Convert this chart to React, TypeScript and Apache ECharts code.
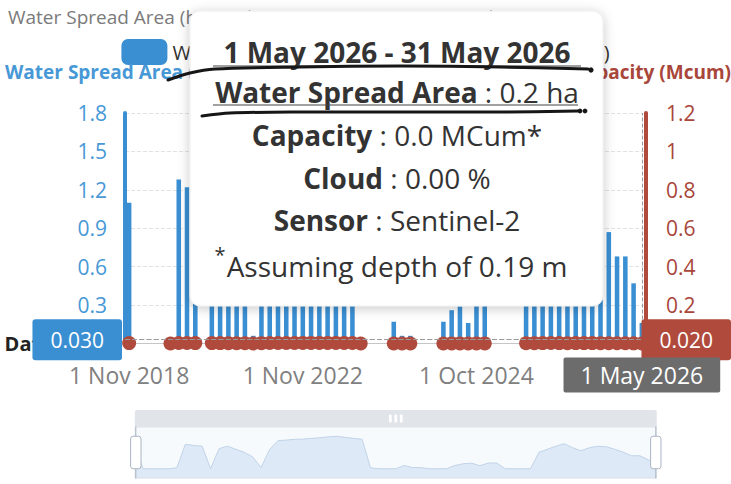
import React, { useEffect, useRef } from 'react';
import * as echarts from 'echarts';

// ---------- data ----------
const dates: string[] = [
  '1 Nov 2018', '1 Dec 2018', '1 Jan 2019', '1 Feb 2019', '1 Mar 2019', '1 Apr 2019',
  '1 Nov 2019', '1 Dec 2019', '1 Jan 2020', '1 Feb 2020', '1 Mar 2020',
  '1 Nov 2020', '1 Dec 2020', '1 Jan 2021', '1 Feb 2021', '1 Mar 2021',
  '1 Oct 2021', '1 Nov 2021', '1 Dec 2021', '1 Jan 2022', '1 Feb 2022',
  '1 Nov 2022', '1 Dec 2022', '1 Jan 2023', '1 Feb 2023', '1 Mar 2023', '1 Apr 2023',
  '1 May 2023', '1 Jun 2023', '1 Sep 2023', '1 Oct 2023', '1 Nov 2023', '1 Dec 2023',
  '1 Jan 2024', '1 Feb 2024', '1 Mar 2024', '1 Apr 2024', '1 May 2024', '1 Jun 2024',
  '1 Jul 2024', '1 Aug 2024', '1 Sep 2024', '1 Oct 2024', '1 Nov 2024', '1 Dec 2024',
  '1 Jan 2025', '1 Feb 2025', '1 Mar 2025', '1 Apr 2025', '1 May 2025', '1 Jun 2025',
  '1 Jul 2025', '1 Aug 2025', '1 Sep 2025', '1 Oct 2025', '1 Nov 2025', '1 Dec 2025',
  '1 Jan 2026', '1 Feb 2026', '1 Mar 2026', '1 Apr 2026', '16 Apr 2026', '1 May 2026',
];

// Water spread area (ha)
const waterSpreadArea: number[] = [
  1.1, 0, 0, 0, 0, 0.05, 1.28, 1.22, 1.18, 0,
  1.05, 1.18, 1.02, 0.86, 0.62, 0.06, 1.0, 1.47, 1.5, 1.54,
  1.55, 1.59, 1.62, 1.67, 1.7, 1.64, 1.59, 1.54, 0.05, 0,
  0, 0, 0.17, 0.06, 0.06, 0, 0, 0, 0.17, 0.26,
  0.29, 0.16, 0.3, 0.3, 0, 0, 0, 0, 0.86, 1.02,
  1.18, 1.31, 1.1, 0.94, 1.1, 1.18, 1.15, 1.02, 0.87, 0.68,
  0.68, 0.47, 0.16,
];

// Capacity (Mcum)
const capacity: (number | null)[] = [
  0.0021, null, null, null, null, 0.0001, 0.0024, 0.0023, 0.0022, null,
  0.002, 0.0022, 0.0019, 0.0016, 0.0012, 0.0001, 0.0019, 0.0028, 0.0029, 0.0029,
  0.0029, 0.003, 0.0031, 0.0032, 0.0032, 0.0031, 0.003, 0.0029, 0.0001, null,
  null, null, 0.0003, 0.0001, 0.0001, null, null, null, 0.0003, 0.0005,
  0.0006, 0.0003, 0.0006, 0.0006, null, null, null, null, 0.0016, 0.0019,
  0.0022, 0.0025, 0.0021, 0.0018, 0.0021, 0.0022, 0.0022, 0.0019, 0.0017, 0.0013,
  0.0013, 0.0009, 0.0003,
];

const leftAxisMax = 1.8;
const leftAxisInterval = 0.3;
const rightAxisMax = 1.2;
const rightAxisInterval = 0.2;

const pointerAreaValue = 0.03;
const pointerCapacityValue = 0.02;
const pointerDateIndex = 62;

const TITLE = 'Water Spread Area (ha) and Capacity (Mcum) Temporal Variation';
const AREA_NAME = 'Water Spread Area (ha)';
const CAP_NAME = 'Capacity (Mcum)';

const tipPeriod = '1 May 2026 - 31 May 2026';
const tipArea = '0.2 ha';
const tipCapacity = '0.0 MCum*';
const tipCloud = '0.00 %';
const tipSensor = 'Sentinel-2';
const tipNote = 'Assuming depth of 0.19 m';

// ---------- styles ----------
const FONT = "'Open Sans', 'Noto Sans', sans-serif";
const BLUE = '#3a8fd3';
const BLUE_TEXT = '#4798d6';
const RED = '#b04a3d';
const RED_TEXT = '#a9463a';
const TIP_TEXT = '#333333';
const INK = '#161616';
const TIP_SIZE = 28;

export default function App() {
  const ref = useRef<HTMLDivElement>(null);

  useEffect(() => {
    if (!ref.current) return;
    const chart = echarts.init(ref.current, undefined, { renderer: 'svg' });

    const tipText = (text: string, y: number, rich?: any, weight = 'normal') => ({
      type: 'text',
      x: 397,
      y,
      z: 101,
      style: {
        text,
        fontSize: TIP_SIZE,
        fontWeight: weight,
        fontFamily: FONT,
        fill: TIP_TEXT,
        textAlign: 'center',
        align: 'center',
        textVerticalAlign: 'middle',
        verticalAlign: 'middle',
        rich,
      },
    });

    const richBold = {
      b: { fontSize: TIP_SIZE, fontWeight: 'bold', fontFamily: FONT, fill: TIP_TEXT },
      n: { fontSize: TIP_SIZE, fontWeight: 'normal', fontFamily: FONT, fill: TIP_TEXT },
    };

    const pointerLabel = (bg: string) => ({
      show: true,
      formatter: (p: any) => Number(p.value).toFixed(3),
      backgroundColor: bg,
      color: '#fff',
      fontSize: 21,
      fontFamily: FONT,
      padding: [10, 18],
      borderRadius: 3,
    });

    const option: any = {
      animation: false,
      textStyle: { fontFamily: FONT },
      title: {
        text: TITLE,
        left: 3,
        top: 2,
        textStyle: { fontSize: 19, fontWeight: 'normal', color: '#7a7a7a', fontFamily: FONT },
      },
      legend: {
        top: 34,
        left: 'center',
        itemWidth: 46,
        itemHeight: 26,
        itemGap: 16,
        textStyle: { fontSize: 20, color: '#333', fontFamily: FONT },
        data: [
          { name: AREA_NAME, icon: 'roundRect' },
          { name: CAP_NAME, icon: 'roundRect' },
        ],
      },
      grid: { left: 125, right: 85, top: 113, bottom: 140.5 },
      xAxis: {
        type: 'category',
        data: dates,
        boundaryGap: true,
        name: 'Date',
        nameLocation: 'start',
        nameGap: 73,
        nameTextStyle: { fontSize: 20, fontWeight: 'bold', color: '#222', fontFamily: FONT },
        axisLine: { lineStyle: { color: '#c6c6c6', width: 1 } },
        axisTick: { show: false },
        axisLabel: { interval: 20, fontSize: 23, color: '#808080', margin: 20, fontFamily: FONT },
        splitLine: { show: false },
        axisPointer: {
          show: true,
          status: 'show',
          value: pointerDateIndex,
          type: 'line',
          triggerTooltip: false,
          lineStyle: { color: '#9a9a9a', type: 'dashed', width: 1 },
          label: {
            show: true,
            backgroundColor: '#6c6c6c',
            color: '#fff',
            fontSize: 23,
            fontFamily: FONT,
            padding: [6, 17],
            margin: 14,
            borderRadius: 2,
          },
        },
      },
      yAxis: [
        {
          type: 'value',
          position: 'left',
          min: 0,
          max: leftAxisMax,
          interval: leftAxisInterval,
          axisLine: { show: true, lineStyle: { color: BLUE, width: 4 } },
          axisTick: { show: false },
          axisLabel: { fontSize: 21, color: BLUE_TEXT, margin: 18, fontFamily: FONT, showMinLabel: false },
          splitLine: { show: true, lineStyle: { color: '#e2e2e2', type: 'dashed' } },
          axisPointer: {
            show: true,
            status: 'show',
            value: pointerAreaValue,
            type: 'line',
            triggerTooltip: false,
            lineStyle: { color: '#9a9a9a', type: 'dashed', width: 1.2 },
            label: pointerLabel(BLUE),
          },
        },
        {
          type: 'value',
          position: 'right',
          min: 0,
          max: rightAxisMax,
          interval: rightAxisInterval,
          axisLine: { show: true, lineStyle: { color: RED, width: 4 } },
          axisTick: { show: false },
          axisLabel: { fontSize: 21, color: RED_TEXT, margin: 20, fontFamily: FONT, showMinLabel: false },
          splitLine: { show: false },
          axisPointer: {
            show: true,
            status: 'show',
            value: pointerCapacityValue,
            type: 'line',
            triggerTooltip: false,
            lineStyle: { color: '#9a9a9a', type: 'dashed', width: 1.2 },
            label: pointerLabel(RED),
          },
        },
      ],
      dataZoom: [
        {
          type: 'slider',
          xAxisIndex: 0,
          start: 0,
          end: 100,
          left: 128,
          right: 81,
          top: 410,
          height: 52,
          moveHandleSize: 17,
          showDetail: false,
          showDataShadow: true,
          borderColor: '#dde3ea',
          fillerColor: 'rgba(225,235,248,0.25)',
          backgroundColor: 'rgba(0,0,0,0)',
          moveHandleStyle: { color: '#e1e5ea', opacity: 1 },
          handleStyle: { color: '#ffffff', borderColor: '#aab4c2' },
          dataBackground: {
            lineStyle: { color: '#b7cbe2', width: 1 },
            areaStyle: { color: '#d3e3f4', opacity: 0.8 },
          },
          selectedDataBackground: {
            lineStyle: { color: '#b7cbe2', width: 1 },
            areaStyle: { color: '#d3e3f4', opacity: 0.8 },
          },
        },
      ],
      series: [
        {
          name: AREA_NAME,
          type: 'bar',
          yAxisIndex: 0,
          data: waterSpreadArea,
          barWidth: '55%',
          itemStyle: { color: BLUE },
        },
        {
          name: CAP_NAME,
          type: 'line',
          yAxisIndex: 1,
          data: capacity,
          connectNulls: false,
          symbol: 'circle',
          symbolSize: 14,
          showAllSymbol: true,
          itemStyle: { color: RED },
          lineStyle: { color: RED, width: 2 },
          z: 3,
        },
      ],
      graphic: [
        {
          type: 'text',
          x: 5,
          y: 72,
          z: 5,
          style: {
            text: AREA_NAME,
            fontSize: 19,
            fontWeight: 'bold',
            fontFamily: FONT,
            fill: BLUE_TEXT,
            textAlign: 'left',
            align: 'left',
            textVerticalAlign: 'middle',
            verticalAlign: 'middle',
          },
        },
        {
          type: 'text',
          x: 731,
          y: 72,
          z: 5,
          style: {
            text: CAP_NAME,
            fontSize: 19,
            fontWeight: 'bold',
            fontFamily: FONT,
            fill: RED_TEXT,
            textAlign: 'right',
            align: 'right',
            textVerticalAlign: 'middle',
            verticalAlign: 'middle',
          },
        },
        // tooltip box
        {
          type: 'rect',
          z: 100,
          shape: { x: 190, y: 11, width: 413, height: 295, r: 10 },
          style: {
            fill: '#ffffff',
            stroke: '#ececec',
            lineWidth: 1,
            shadowBlur: 12,
            shadowColor: 'rgba(0,0,0,0.22)',
            shadowOffsetY: 2,
          },
        },
        tipText(tipPeriod, 52, undefined, 'bold'),
        tipText('{b|Water Spread Area}{n| : ' + tipArea + '}', 92, richBold),
        tipText('{b|Capacity}{n| : ' + tipCapacity + '}', 135, richBold),
        tipText('{b|Cloud}{n| : ' + tipCloud + '}', 178, richBold),
        tipText('{b|Sensor}{n| : ' + tipSensor + '}', 220, richBold),
        tipText(tipNote, 266),
        {
          type: 'text',
          x: 220,
          y: 254,
          z: 101,
          style: {
            text: '*',
            fontSize: 20,
            fontFamily: FONT,
            fill: TIP_TEXT,
            textAlign: 'center',
            align: 'center',
            textVerticalAlign: 'middle',
            verticalAlign: 'middle',
          },
        },
        // thin underlines
        {
          type: 'line',
          z: 102,
          shape: { x1: 213, y1: 66, x2: 581, y2: 66 },
          style: { stroke: '#444', lineWidth: 1.2 },
        },
        {
          type: 'line',
          z: 102,
          shape: { x1: 213, y1: 105, x2: 578, y2: 105 },
          style: { stroke: '#444', lineWidth: 1.2 },
        },
        // hand-drawn ink strokes
        {
          type: 'polyline',
          z: 110,
          shape: {
            points: [[168, 80], [190, 73], [215, 69], [300, 67], [400, 66], [500, 67], [588, 69]],
            smooth: 0.3,
          },
          style: { stroke: INK, lineWidth: 3, fill: null, lineCap: 'round' },
        },
        { type: 'circle', z: 110, shape: { cx: 591, cy: 70, r: 2.6 }, style: { fill: INK } },
        {
          type: 'polyline',
          z: 110,
          shape: {
            points: [[202, 116], [230, 113], [300, 112], [400, 112], [500, 112], [578, 111]],
            smooth: 0.3,
          },
          style: { stroke: INK, lineWidth: 3, fill: null, lineCap: 'round' },
        },
        { type: 'circle', z: 110, shape: { cx: 580, cy: 111, r: 2.4 }, style: { fill: INK } },
        { type: 'circle', z: 110, shape: { cx: 585, cy: 111, r: 2.4 }, style: { fill: INK } },
      ],
    };

    chart.setOption(option);
    return () => chart.dispose();
  }, []);

  return (
    <div
      ref={ref}
      style={{ position: 'absolute', left: 0, top: 0, width: 731, height: 484, background: '#fff' }}
    />
  );
}
